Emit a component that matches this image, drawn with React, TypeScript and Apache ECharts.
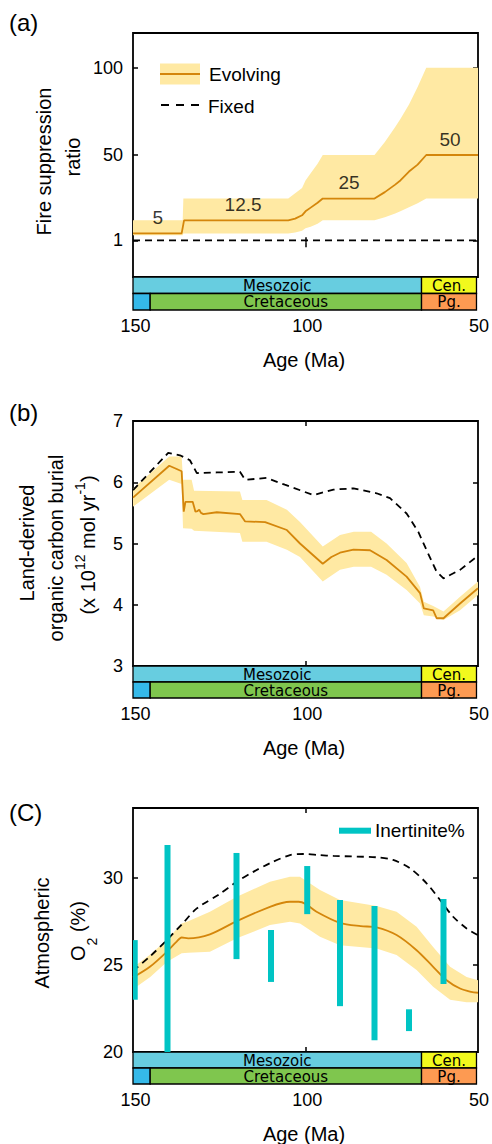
import React, { useEffect, useRef } from "react";
import * as echarts from "echarts";

const FONT = '"Liberation Sans", Arial, Helvetica, sans-serif';
const TS_FONT = '"DejaVu Sans", Verdana, sans-serif';
const BAND = "#FFE9A3";
const ORANGE = "#D4860B";
const CYAN = "#00C4C4";

// ---------------- shared axis ----------------
const ageLabels = [150, 100, 50];
const innerAgeTicks = [100];

// ---------------- geological time scale ----------------
const eraNames = ["Mesozoic", "Cen.", "", "Cretaceous", "Pg."];
const eraStart = [150, 66, 150, 145, 66];
const eraEnd = [66, 50, 145, 66, 50];
const eraRow = [1, 1, 0, 0, 0];
const eraColors = ["#67CDE0", "#F2F91D", "#35B9E9", "#7FC64E", "#FD9A52"];

// ---------------- (a) fire suppression ratio ----------------
const aTicks = [1, 50, 100];
const aLineAges = [150, 135.9, 135.2, 105, 103, 101, 100, 98.5, 96.5, 95, 80, 77, 74, 72.5, 70, 67.5, 65, 50];
const aLineValues = [5, 5, 12.5, 12.5, 13.5, 15.4, 17.7, 19.8, 22.6, 25, 25, 28.7, 33, 35.4, 40.5, 44.5, 50, 50];
const aBandAges = [150, 135.6, 135.4, 105, 103, 101, 100, 98.5, 96.5, 95, 80, 77, 74, 72.5, 70, 67.5, 65, 50];
const aBandUpper = [12.5, 12.5, 25, 25, 28, 31, 35.4, 39.5, 45, 50, 50, 57.5, 66, 70.7, 79, 89, 100, 100];
const aBandLower = [4, 4, 5, 5, 5.5, 6.5, 8, 8.9, 10.5, 12.5, 12.5, 14.3, 16.5, 17.7, 20, 22.3, 25, 25];
const aFixedAges = [150, 50];
const aFixedValues = [1, 1];
const aAnnoTexts = ["5", "12.5", "25", "50"];
const aAnnoAges = [142.8, 118.1, 87.4, 58.1];
const aAnnoValues = [5, 12.5, 25, 50];

// ---------------- (b) land-derived organic carbon burial ----------------
const bTicks = [3, 4, 5, 6, 7];
const bLineAges = [150, 139.5, 137.5, 135.9, 135.3, 134.8, 132.7, 131.9, 131.3, 130.8, 130.3, 129.6, 125.7, 119, 117.5, 111.7, 105.4, 101.6, 95, 92.5, 90, 86.1, 81.3, 76.5, 70.7, 66.8, 65.7, 63, 62, 60, 55.2, 50];
const bLineValues = [5.75, 6.27, 6.22, 6.18, 5.52, 5.68, 5.68, 5.52, 5.53, 5.55, 5.5, 5.48, 5.51, 5.48, 5.36, 5.35, 5.22, 5.0, 4.67, 4.78, 4.85, 4.9, 4.89, 4.73, 4.46, 4.19, 3.94, 3.91, 3.78, 3.78, 4.02, 4.27];
const bBandAges = [150, 139.5, 135.9, 135.5, 133, 132.3, 119, 118.3, 111.3, 105.4, 101.6, 95, 90, 86, 81, 76.5, 70.7, 66.8, 65.7, 63, 60, 55.2, 50];
const bBandUpper = [5.9, 6.42, 6.42, 6.04, 6.04, 5.86, 5.85, 5.71, 5.71, 5.55, 5.35, 4.95, 5.14, 5.19, 5.19, 5.0, 4.68, 4.29, 4.05, 3.98, 3.89, 4.13, 4.38];
const bBandLower = [5.6, 6.04, 5.97, 5.25, 5.24, 5.21, 5.17, 5.03, 5.03, 4.9, 4.78, 4.38, 4.57, 4.62, 4.62, 4.49, 4.24, 4.02, 3.83, 3.81, 3.75, 3.91, 4.16];
const bFixedAges = [150, 139.8, 136.4, 133.5, 131.5, 125.7, 119, 117.5, 111.3, 106, 100.6, 97.7, 91.9, 86.1, 79.4, 75.5, 70.7, 67.3, 64.9, 62, 60, 55.2, 50];
const bFixedValues = [5.87, 6.48, 6.44, 6.36, 6.15, 6.16, 6.17, 6.04, 6.07, 5.96, 5.85, 5.79, 5.88, 5.9, 5.82, 5.74, 5.49, 5.19, 4.89, 4.54, 4.43, 4.57, 4.8];

// ---------------- (c) atmospheric O2 ----------------
const cTicks = [20, 25, 30];
const cLineAges = [150, 145.1, 140.2, 137.5, 135.9, 134, 127.7, 119.9, 110.3, 104.5, 102, 100, 96.8, 90, 84, 79.4, 73.6, 67.8, 63, 59.1, 55.2, 52, 50];
const cLineValues = [24.28, 24.89, 25.75, 26.3, 26.57, 26.52, 26.75, 27.51, 28.33, 28.62, 28.62, 28.5, 28.05, 27.41, 27.22, 27.15, 26.71, 25.84, 24.89, 24.12, 23.64, 23.45, 23.4];
const cBandAges = [150, 145, 140.2, 135.9, 134, 127.7, 119.9, 110.3, 104.5, 101.6, 95.8, 90, 79.4, 73.6, 67.8, 63, 58.1, 53.3, 50];
const cBandUpper = [24.85, 25.6, 26.42, 27.38, 27.5, 28.05, 28.91, 29.77, 30.06, 30.06, 29.29, 28.72, 28.37, 28.05, 27.18, 26.03, 24.89, 24.31, 24.12];
const cBandLower = [23.6, 24.3, 25.17, 25.66, 25.7, 25.75, 26.52, 27.28, 27.47, 27.38, 26.61, 26.13, 25.94, 25.56, 24.7, 23.74, 23.0, 22.85, 22.85];
const cFixedAges = [150, 145, 140.2, 135.5, 131.5, 125, 119.9, 115, 110.3, 104.5, 100.6, 96, 91.9, 79.4, 74.6, 69.7, 64.9, 61, 57.2, 53.3, 50];
const cFixedValues = [24.66, 25.5, 26.42, 27.4, 28.24, 29.05, 29.77, 30.35, 30.83, 31.3, 31.36, 31.3, 31.25, 31.17, 31.02, 30.54, 29.68, 28.72, 27.76, 27.09, 26.7];
const inertAges = [149.5, 140, 120, 110, 99.5, 90, 80, 70, 60];
const inertLow = [23.0, 20.0, 25.33, 24.02, 27.91, 22.63, 20.67, 21.2, 23.9];
const inertHigh = [26.42, 31.88, 31.42, 27.0, 30.67, 28.72, 28.37, 22.45, 28.78];

const zip = (xs: number[], ys: number[]) => xs.map((x, i) => [x, ys[i]]);

const panels = [
  { top: 33, h: 244, tsH: 33, min: -20, max: 120, ticks: aTicks },
  { top: 421, h: 245, tsH: 32, min: 3, max: 7, ticks: bTicks },
  { top: 808, h: 244, tsH: 32, min: 20, max: 34, ticks: cTicks },
];

const tickStyle = { color: "#000", width: 1.5 };

function buildOption() {
  const grid: any[] = [];
  const xAxis: any[] = [];
  const yAxis: any[] = [];
  panels.forEach((p, k) => {
    grid.push({ left: 133, right: 14, top: p.top, height: p.h, show: true, borderColor: "#000", borderWidth: 1.8, backgroundColor: "transparent" });
    grid.push({ left: 133, right: 14, top: p.top + p.h, height: p.tsH, show: false });
    xAxis.push({
      type: "value", gridIndex: 2 * k, min: 50, max: 150, inverse: true,
      axisLine: { show: false }, splitLine: { show: false }, axisLabel: { show: false },
      axisTick: { show: true, inside: true, length: 5, lineStyle: tickStyle, customValues: innerAgeTicks },
    });
    xAxis.push({
      type: "value", gridIndex: 2 * k + 1, min: 50, max: 150, inverse: true,
      axisLine: { show: false }, splitLine: { show: false }, axisTick: { show: false },
      axisLabel: { show: true, customValues: ageLabels, fontSize: 18, fontFamily: FONT, color: "#000", margin: 7, padding: [0, 0, 0, 5] },
    });
    yAxis.push({
      type: "value", gridIndex: 2 * k, min: p.min, max: p.max,
      axisLine: { show: false }, splitLine: { show: false },
      axisTick: { show: true, inside: true, length: 5, lineStyle: tickStyle, customValues: p.ticks },
      axisLabel: { show: true, customValues: p.ticks, fontSize: 18, fontFamily: FONT, color: "#000", margin: 10 },
    });
    yAxis.push({ type: "value", gridIndex: 2 * k + 1, min: 0, max: 2, show: false });
  });
  panels.forEach((p, k) => {
    xAxis.push({
      type: "value", gridIndex: 2 * k, position: "top", min: 50, max: 150, inverse: true,
      axisLine: { show: false }, splitLine: { show: false }, axisLabel: { show: false },
      axisTick: { show: true, inside: true, length: 5, lineStyle: tickStyle, customValues: innerAgeTicks },
    });
    yAxis.push({
      type: "value", gridIndex: 2 * k, position: "right", min: p.min, max: p.max,
      axisLine: { show: false }, splitLine: { show: false }, axisLabel: { show: false },
      axisTick: { show: true, inside: true, length: 5, lineStyle: tickStyle, customValues: p.ticks },
    });
  });

  const band = (idx: number, ages: number[], lower: number[], upper: number[]) => ({
    type: "custom", xAxisIndex: idx, yAxisIndex: idx, clip: true, silent: true, z: 1,
    data: [[ages[0], lower[0]]],
    renderItem: (_params: any, api: any) => {
      const pts: number[][] = [];
      for (let i = 0; i < ages.length; i++) pts.push(api.coord([ages[i], upper[i]]));
      for (let i = ages.length - 1; i >= 0; i--) pts.push(api.coord([ages[i], lower[i]]));
      return { type: "polygon", shape: { points: pts }, style: { fill: BAND, stroke: null } };
    },
  });
  const line = (idx: number, ages: number[], vals: number[], smooth: any) => ({
    type: "line", xAxisIndex: idx, yAxisIndex: idx, data: zip(ages, vals), symbol: "none", smooth, z: 2,
    lineStyle: { color: ORANGE, width: 1.8 }, silent: true,
  });
  const dashed = (idx: number, ages: number[], vals: number[], smooth: any) => ({
    type: "line", xAxisIndex: idx, yAxisIndex: idx, data: zip(ages, vals), symbol: "none", smooth, z: 3,
    lineStyle: { color: "#000", width: 1.8, type: [7, 5] }, silent: true,
  });
  const timescale = (idx: number) => ({
    type: "custom", xAxisIndex: idx, yAxisIndex: idx, clip: false, silent: true, z: 5,
    data: eraStart.map((s, i) => [s, eraEnd[i], eraRow[i]]),
    encode: { x: [0, 1], y: 2 },
    renderItem: (params: any, api: any) => {
      const i = params.dataIndex;
      const p0 = api.coord([api.value(0), api.value(2) + 1]);
      const p1 = api.coord([api.value(1), api.value(2)]);
      const x = Math.min(p0[0], p1[0]);
      const y = Math.min(p0[1], p1[1]);
      const w = Math.abs(p1[0] - p0[0]);
      const h = Math.abs(p1[1] - p0[1]);
      return {
        type: "group",
        children: [
          { type: "rect", shape: { x, y, width: w, height: h }, style: { fill: eraColors[i], stroke: "#000", lineWidth: 1.3 } },
          { type: "text", x: x + w / 2, y: y + h / 2 + 0.5, style: { text: eraNames[i], fill: "#000", fontSize: 15, fontFamily: TS_FONT, align: "center", verticalAlign: "middle" } },
        ],
      };
    },
  });

  const series: any[] = [
    band(0, aBandAges, aBandLower, aBandUpper),
    dashed(0, aFixedAges, aFixedValues, false),
    line(0, aLineAges, aLineValues, false),
    {
      type: "scatter", xAxisIndex: 0, yAxisIndex: 0, data: zip(aAnnoAges, aAnnoValues), symbolSize: 1, z: 4, silent: true,
      itemStyle: { color: "rgba(0,0,0,0)" },
      label: { show: true, position: "top", distance: 6, formatter: (p: any) => aAnnoTexts[p.dataIndex], fontSize: 19, fontFamily: FONT, color: "#000" },
    },
    timescale(1),
    band(2, bBandAges, bBandLower, bBandUpper),
    line(2, bLineAges, bLineValues, false),
    dashed(2, bFixedAges, bFixedValues, false),
    timescale(3),
    band(4, cBandAges, cBandLower, cBandUpper),
    line(4, cLineAges, cLineValues, 0.3),
    dashed(4, cFixedAges, cFixedValues, 0.3),
    {
      type: "custom", xAxisIndex: 4, yAxisIndex: 4, clip: true, silent: true, z: 6,
      data: inertAges.map((a, i) => [a, inertLow[i], inertHigh[i]]),
      encode: { x: 0, y: [1, 2] },
      renderItem: (_params: any, api: any) => {
        const top = api.coord([api.value(0), api.value(2)]);
        const bot = api.coord([api.value(0), api.value(1)]);
        return { type: "rect", shape: { x: top[0] - 3, y: top[1], width: 6, height: bot[1] - top[1] }, style: { fill: CYAN } };
      },
    },
    timescale(5),
  ];

  const title = (text: string, x: number, y: number, extra: any = {}) => ({
    type: "text", x, y, rotation: Math.PI / 2, z: 10,
    style: { text, fill: "#000", fontSize: 20, fontFamily: FONT, align: "center", verticalAlign: "middle", ...extra },
  });
  const plain = (text: string, x: number, y: number, size: number, align = "left") => ({
    type: "text", x, y, z: 10,
    style: { text, fill: "#000", fontSize: size, fontFamily: FONT, align, verticalAlign: "middle" },
  });

  const graphic: any[] = [
    plain("(a)", 9, 22.5, 24),
    plain("(b)", 9, 412, 24),
    plain("(C)", 9, 812, 24),
    title("Fire suppression", 44, 161.5),
    title("ratio", 73, 157),
    title("Land-derived", 27, 543),
    title("organic carbon burial", 56, 548),
    title("(x 10{sup|12} mol yr{sup|-1})", 88, 545, {
      lineHeight: 30,
      rich: { sup: { fontSize: 14, fontFamily: FONT, fill: "#000", verticalAlign: "top", lineHeight: 14 } },
    }),
    title("Atmospheric", 42, 933),
    title("O{sub|2} (%)", 78, 931, {
      lineHeight: 42,
      rich: { sub: { fontSize: 14, fontFamily: FONT, fill: "#000", verticalAlign: "bottom", lineHeight: 16 } },
    }),
    plain("Age (Ma)", 304, 360, 20, "center"),
    plain("Age (Ma)", 304, 748, 20, "center"),
    plain("Age (Ma)", 304, 1134, 20, "center"),
    // legend (a)
    { type: "rect", z: 10, shape: { x: 160, y: 63.5, width: 40, height: 21 }, style: { fill: BAND } },
    { type: "line", z: 11, shape: { x1: 160, y1: 74, x2: 200, y2: 74 }, style: { stroke: ORANGE, lineWidth: 2 } },
    plain("Evolving", 209, 74, 19),
    { type: "line", z: 11, shape: { x1: 161, y1: 105, x2: 200, y2: 105 }, style: { stroke: "#000", lineWidth: 1.8, lineDash: [8, 7] } },
    plain("Fixed", 208, 106, 19),
    // legend (c)
    { type: "line", z: 11, shape: { x1: 339, y1: 830.7, x2: 371, y2: 830.7 }, style: { stroke: CYAN, lineWidth: 6 } },
    plain("Inertinite%", 375, 830.7, 19),
  ];

  return { animation: false, backgroundColor: "#fff", grid, xAxis, yAxis, series, graphic };
}

export default function App() {
  const ref = useRef<HTMLDivElement>(null);
  useEffect(() => {
    const chart = echarts.init(ref.current as HTMLDivElement, null, { renderer: "svg" });
    chart.setOption(buildOption() as any);
    return () => chart.dispose();
  }, []);
  return <div ref={ref} style={{ position: "absolute", left: 0, top: 0, width: 492, height: 1144, background: "#fff" }} />;
}
